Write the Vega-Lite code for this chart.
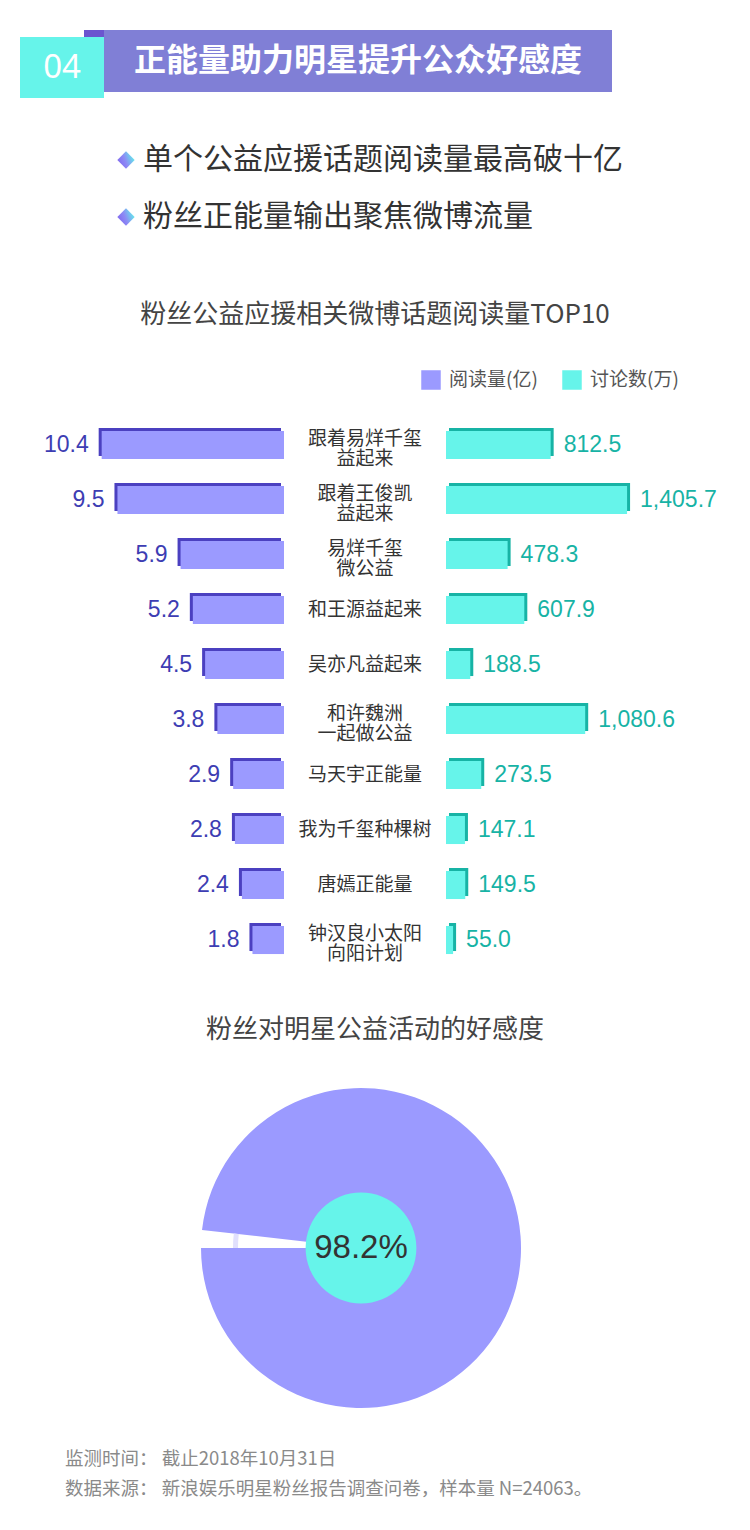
{
  "$schema": "https://vega.github.io/schema/vega-lite/v6.json",
  "padding": {"top": 30, "left": 0, "right": 0, "bottom": 28},
  "autosize": {"type": "pad"},
  "background": "white",
  "spacing": 0,
  "config": {"view": {"stroke": null}, "font": "Noto Sans CJK SC", "concat": {"spacing": 0}},
  "datasets": {
    "topics": [
      {"topic": "跟着易烊千玺\n益起来", "reads": 10.4, "discuss": 812.5},
      {"topic": "跟着王俊凯\n益起来", "reads": 9.5, "discuss": 1405.7},
      {"topic": "易烊千玺\n微公益", "reads": 5.9, "discuss": 478.3},
      {"topic": "和王源益起来", "reads": 5.2, "discuss": 607.9},
      {"topic": "吴亦凡益起来", "reads": 4.5, "discuss": 188.5},
      {"topic": "和许魏洲\n一起做公益", "reads": 3.8, "discuss": 1080.6},
      {"topic": "马天宇正能量", "reads": 2.9, "discuss": 273.5},
      {"topic": "我为千玺种棵树", "reads": 2.8, "discuss": 147.1},
      {"topic": "唐嫣正能量", "reads": 2.4, "discuss": 149.5},
      {"topic": "钟汉良小太阳\n向阳计划", "reads": 1.8, "discuss": 55.0}
    ],
    "bullets": [
      {"text": "单个公益应援话题阅读量最高破十亿"},
      {"text": "粉丝正能量输出聚焦微博流量"}
    ],
    "pie": [
      {"category": "好感", "share": 98.2},
      {"category": "其他", "share": 1.8}
    ],
    "blank": [{}]
  },
  "vconcat": [
    {
      "hconcat": [
        {"width": 20, "height": 68, "data": {"name": "blank"}, "mark": {"type": "point", "size": 0, "opacity": 0}},
        {
          "vconcat": [
            {
              "hconcat": [
                {"width": 64, "height": 7, "data": {"name": "blank"}, "mark": {"type": "point", "size": 0, "opacity": 0}},
                {"width": 20, "height": 7, "view": {"fill": "#6b55cf", "stroke": null}, "data": {"name": "blank"}, "mark": {"type": "point", "size": 0, "opacity": 0}}
              ],
              "spacing": 0
            },
            {
              "width": 84, "height": 61,
              "view": {"fill": "#66f4ea", "stroke": null},
              "data": {"values": [{"label": "04"}]},
              "mark": {"type": "text", "color": "white", "fontSize": 33, "font": "Noto Sans"},
              "encoding": {"text": {"field": "label"}}
            }
          ],
          "spacing": 0
        },
        {
          "width": 508, "height": 62,
          "view": {"fill": "#807fd6", "stroke": null},
          "data": {"values": [{"label": "正能量助力明星提升公众好感度"}]},
          "mark": {"type": "text", "color": "white", "fontSize": 32, "fontWeight": "bold"},
          "encoding": {"text": {"field": "label"}}
        }
      ],
      "spacing": 0
    },
    {
      "hconcat": [
        {"width": 109, "height": 171, "data": {"name": "blank"}, "mark": {"type": "point", "size": 0, "opacity": 0}},
        {
          "width": 34, "height": 171,
          "data": {"name": "bullets"},
          "mark": {"type": "point", "shape": "diamond", "filled": true, "size": 300, "opacity": 1,
            "fill": {"gradient": "linear", "x1": 0, "y1": 0.7, "x2": 1, "y2": 0.3,
              "stops": [{"offset": 0, "color": "#7f66ee"}, {"offset": 0.45, "color": "#8d8af5"}, {"offset": 1, "color": "#5ff3ea"}]}},
          "encoding": {
            "y": {"field": "text", "type": "nominal", "sort": null, "axis": null, "scale": {"type": "point", "padding": 1, "align": 0.5439}}
          }
        },
        {
          "width": 600, "height": 171,
          "data": {"name": "bullets"},
          "mark": {"type": "text", "align": "left", "fontSize": 30, "color": "#333333"},
          "encoding": {
            "x": {"value": 0},
            "y": {"field": "text", "type": "nominal", "sort": null, "axis": null, "scale": {"type": "point", "padding": 1, "align": 0.5439}},
            "text": {"field": "text"}
          }
        }
      ],
      "spacing": 0
    },
    {
      "width": 750, "height": 92,
      "data": {"values": [{"t": "粉丝公益应援相关微博话题阅读量TOP10"}]},
      "mark": {"type": "text", "fontSize": 26, "color": "#444444"},
      "encoding": {"text": {"field": "t"}}
    },
    {
      "hconcat": [
        {"width": 421, "height": 38, "data": {"name": "blank"}, "mark": {"type": "point", "size": 0, "opacity": 0}},
        {
          "width": 141, "height": 38,
          "data": {"values": [{"name": "阅读量(亿)"}, {"name": "讨论数(万)"}]},
          "encoding": {
            "x": {"field": "name", "type": "nominal", "sort": null, "axis": null, "scale": {"type": "point", "padding": 0}}
          },
          "layer": [
            {
              "mark": {"type": "point", "shape": "square", "filled": true, "size": 380, "opacity": 1},
              "encoding": {
                "color": {"field": "name", "type": "nominal", "legend": null,
                  "scale": {"domain": ["阅读量(亿)", "讨论数(万)"], "range": ["#9b9aff", "#66f4ea"]}}
              }
            },
            {
              "mark": {"type": "text", "align": "left", "dx": 18, "fontSize": 19, "color": "#555555"},
              "encoding": {"text": {"field": "name"}}
            }
          ]
        }
      ],
      "spacing": 0
    },
    {
      "hconcat": [
        {
          "width": 284, "height": 581,
          "data": {"name": "topics"},
          "encoding": {
            "y": {"field": "topic", "type": "nominal", "sort": null, "axis": null, "scale": {"type": "band", "paddingInner": 0.49, "paddingOuter": 0.5268, "align": 0.552}},
            "x": {"field": "reads", "type": "quantitative", "axis": null, "scale": {"domain": [0, 16.2], "reverse": true, "nice": false}}
          },
          "layer": [
            {"mark": {"type": "bar", "color": "#4b40c0", "xOffset": -3, "yOffset": -3}},
            {"mark": {"type": "bar", "color": "#9b9aff"}},
            {
              "mark": {"type": "text", "align": "right", "dx": -13, "fontSize": 23, "font": "Liberation Sans", "color": "#3d3db3"},
              "encoding": {"text": {"field": "reads", "type": "quantitative", "format": ".1f"}}
            }
          ]
        },
        {
          "width": 162, "height": 581,
          "data": {"name": "topics"},
          "encoding": {
            "y": {"field": "topic", "type": "nominal", "sort": null, "axis": null, "scale": {"type": "band", "paddingInner": 0.49, "paddingOuter": 0.5268, "align": 0.552}}
          },
          "layer": [
            {
              "mark": {"type": "text", "fontSize": 19, "color": "#333333"},
              "encoding": {
                "text": {"condition": {"test": "indexof(datum.topic, '\\n') < 0", "field": "topic"}, "value": ""}
              }
            },
            {
              "mark": {"type": "text", "fontSize": 19, "color": "#333333", "lineBreak": "\n", "lineHeight": 20, "dy": -6},
              "encoding": {
                "text": {"condition": {"test": "indexof(datum.topic, '\\n') >= 0", "field": "topic"}, "value": ""}
              }
            }
          ]
        },
        {
          "width": 304, "height": 581,
          "data": {"name": "topics"},
          "encoding": {
            "y": {"field": "topic", "type": "nominal", "sort": null, "axis": null, "scale": {"type": "band", "paddingInner": 0.49, "paddingOuter": 0.5268, "align": 0.552}},
            "x": {"field": "discuss", "type": "quantitative", "axis": null, "scale": {"domain": [0, 2360], "nice": false}}
          },
          "layer": [
            {"mark": {"type": "bar", "color": "#17b3a5", "xOffset": 3, "yOffset": -3}},
            {"mark": {"type": "bar", "color": "#66f4ea"}},
            {
              "mark": {"type": "text", "align": "left", "dx": 13, "fontSize": 23, "font": "Liberation Sans", "color": "#17b3a5"},
              "encoding": {"text": {"field": "discuss", "type": "quantitative", "format": ",.1f"}}
            }
          ]
        }
      ],
      "spacing": 0
    },
    {
      "width": 750, "height": 104,
      "data": {"values": [{"t": "粉丝对明星公益活动的好感度"}]},
      "mark": {"type": "text", "fontSize": 26, "color": "#444444", "dy": -2},
      "encoding": {"text": {"field": "t"}}
    },
    {
      "width": 722, "height": 328,
      "layer": [
        {
          "data": {"name": "pie"},
          "mark": {"type": "arc", "radius": 160},
          "encoding": {
            "theta": {"field": "share", "type": "quantitative", "stack": true, "scale": {"range": [4.712389, 10.995574]}},
            "order": {"field": "share", "sort": "ascending"},
            "fill": {"condition": {"test": "datum.category === '好感'", "value": "#9b9aff"}, "value": "transparent"}
          }
        },
        {
          "data": {"name": "pie"},
          "mark": {"type": "arc", "radius": 128, "radius2": 123},
          "encoding": {
            "theta": {"field": "share", "type": "quantitative", "stack": true, "scale": {"range": [4.712389, 10.995574]}},
            "order": {"field": "share", "sort": "ascending"},
            "fill": {"condition": {"test": "datum.category === '其他'", "value": "#e1e0fd"}, "value": "transparent"}
          }
        },
        {
          "data": {"values": [{"label": "98.2%"}]},
          "mark": {"type": "point", "shape": "circle", "filled": true, "size": 12272, "opacity": 1, "color": "#66f4ea"},
          "encoding": {}
        },
        {
          "data": {"values": [{"label": "98.2%"}]},
          "mark": {"type": "text", "fontSize": 33, "font": "Liberation Sans", "color": "#333333"},
          "encoding": {"text": {"field": "label"}}
        }
      ]
    },
    {
      "hconcat": [
        {"width": 65, "height": 90, "data": {"name": "blank"}, "mark": {"type": "point", "size": 0, "opacity": 0}},
        {
          "width": 685, "height": 90,
          "data": {"values": [
            {"line": "监测时间： 截止2018年10月31日"},
            {"line": "数据来源： 新浪娱乐明星粉丝报告调查问卷，样本量 N=24063。"}
          ]},
          "mark": {"type": "text", "align": "left", "fontSize": 18.5, "color": "#8a8a8a"},
          "encoding": {
            "x": {"value": 0},
            "y": {"field": "line", "type": "nominal", "sort": null, "axis": null, "scale": {"type": "point", "padding": 1, "align": 0.783}},
            "text": {"field": "line"}
          }
        }
      ],
      "spacing": 0
    }
  ]
}
